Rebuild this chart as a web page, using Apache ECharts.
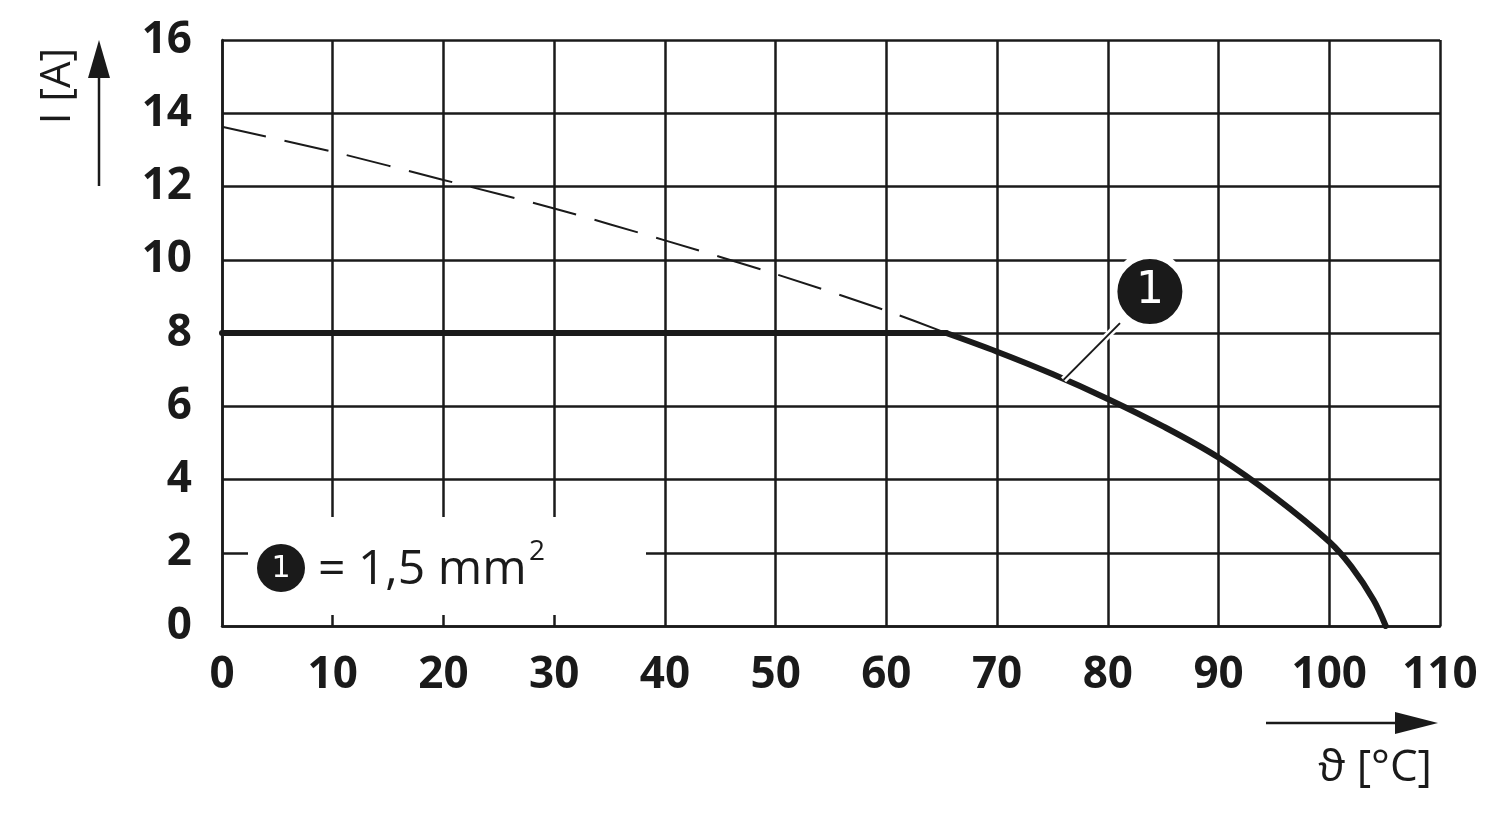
<!DOCTYPE html>
<html>
<head>
<meta charset="utf-8">
<script src="https://cdn.jsdelivr.net/npm/echarts@6/dist/echarts.min.js"></script>
<style>html,body{margin:0;padding:0;background:#fff;}#chart{width:1500px;height:821px;}</style>
</head>
<body>
<div id="chart"></div>
<script>
// ---- data ----
const xTicks = [0, 10, 20, 30, 40, 50, 60, 70, 80, 90, 100, 110];
const yTicks = [0, 2, 4, 6, 8, 10, 12, 14, 16];
// dashed (theoretical) curve
const dashX = [0, 10, 20, 30, 40, 50, 60, 65.4];
const dashY = [13.63, 12.95, 12.18, 11.40, 10.53, 9.61, 8.61, 8.0];
// flat limit
const flatX = [0, 65.4];
const flatY = [8, 8];
// derating curve 1.5 mm²
const curveX = [65.4, 70, 75, 80, 85, 90, 95, 100, 102, 104, 105.1];
const curveY = [8.0, 7.49, 6.88, 6.2, 5.45, 4.6, 3.54, 2.3, 1.62, 0.71, 0];
// callout "1"
const calloutLeaderX = [76, 81.1];
const calloutLeaderY = [6.72, 8.27];
const calloutPos = [83.8, 9.13];
const calloutText = "1";
const legendText = "= 1,5 mm";
const yName = "I [A]";
const xName = "ϑ [°C]";

const zip = (a, b) => a.map((v, i) => [v, b[i]]);
const INK = '#1a1a1a';

const chart = echarts.init(document.getElementById('chart'));
const option = {
  animation: false,
  backgroundColor: '#fff',
  grid: { left: 222, right: 60, top: 40, bottom: 195, containLabel: false },
  xAxis: {
    type: 'value', min: 0, max: 110, interval: 10,
    axisLine: { show: true, lineStyle: { color: INK, width: 2.5 } },
    axisTick: { show: false },
    splitLine: { show: true, lineStyle: { color: INK, width: 2.5 } },
    axisLabel: { margin: 27, color: INK, fontFamily: 'Open Sans', fontWeight: 'bold', fontSize: 44,
      formatter: v => xTicks.includes(v) ? String(v) : '' }
  },
  yAxis: {
    type: 'value', min: 0, max: 16, interval: 2,
    axisLine: { show: true, lineStyle: { color: INK, width: 2.5 } },
    axisTick: { show: false },
    splitLine: { show: true, lineStyle: { color: INK, width: 2.5 } },
    axisLabel: { margin: 30, color: INK, fontFamily: 'Open Sans', fontWeight: 'bold', fontSize: 44,
      formatter: v => yTicks.includes(v) ? String(v) : '' }
  },
  series: [
    { type: 'line', data: zip(dashX, dashY), smooth: 0.25, symbol: 'none', z: 3,
      lineStyle: { color: INK, width: 2, type: [45, 19] } },
    { type: 'line', data: zip(flatX, flatY), symbol: 'none', z: 4,
      lineStyle: { color: INK, width: 6, cap: 'round' } },
    { type: 'line', data: zip(curveX, curveY), smooth: 0.35, symbol: 'none', z: 4,
      lineStyle: { color: INK, width: 6, cap: 'round' } },
    { type: 'line', data: zip(calloutLeaderX, calloutLeaderY), symbol: 'none', z: 5,
      lineStyle: { color: '#fff', width: 7 } },
    { type: 'line', data: zip(calloutLeaderX, calloutLeaderY), symbol: 'none', z: 6,
      lineStyle: { color: INK, width: 2 } },
    { type: 'scatter', data: [calloutPos], symbol: 'circle', symbolSize: 72, z: 7,
      itemStyle: { color: INK, borderColor: '#fff', borderWidth: 7, opacity: 1 },
      label: { show: true, position: 'inside', formatter: calloutText, color: '#fff',
        fontFamily: 'DejaVu Sans', fontSize: 44 } }
  ],
  graphic: [
    // legend box blanking the grid
    { type: 'rect', z: 10, shape: { x: 248, y: 517, width: 398, height: 98 }, style: { fill: '#fff' } },
    { type: 'circle', z: 11, shape: { cx: 281, cy: 568, r: 24 }, style: { fill: INK } },
    { type: 'text', z: 12, x: 281, y: 569, style: { text: calloutText, fill: '#fff', fontFamily: 'DejaVu Sans',
      fontSize: 30, align: 'center', verticalAlign: 'middle' } },
    { type: 'text', z: 12, x: 318, y: 570, style: { text: legendText, fill: INK, fontFamily: 'Open Sans',
      fontSize: 48, align: 'left', verticalAlign: 'middle' } },
    { type: 'text', z: 12, x: 529, y: 552, style: { text: '2', fill: INK, fontFamily: 'Open Sans',
      fontSize: 28, align: 'left', verticalAlign: 'middle' } },
    // y axis name + arrow
    { type: 'text', z: 12, x: 58, y: 86, rotation: Math.PI / 2,
      style: { text: yName, fill: INK, fontFamily: 'Open Sans', fontSize: 42, align: 'center', verticalAlign: 'middle' } },
    { type: 'line', z: 12, shape: { x1: 99, y1: 186, x2: 99, y2: 74 }, style: { stroke: INK, lineWidth: 2.5 } },
    { type: 'polygon', z: 12, shape: { points: [[99, 40], [88, 78], [110, 78]] }, style: { fill: INK } },
    // x axis name + arrow
    { type: 'line', z: 12, shape: { x1: 1266, y1: 723, x2: 1400, y2: 723 }, style: { stroke: INK, lineWidth: 2.5 } },
    { type: 'polygon', z: 12, shape: { points: [[1438, 723], [1395, 712], [1395, 734]] }, style: { fill: INK } },
    { type: 'text', z: 12, x: 1432, y: 768, style: { text: xName, fill: INK, fontFamily: 'Open Sans',
      fontSize: 44, align: 'right', verticalAlign: 'middle' } }
  ]
};
chart.setOption(option);
</script>
</body>
</html>
